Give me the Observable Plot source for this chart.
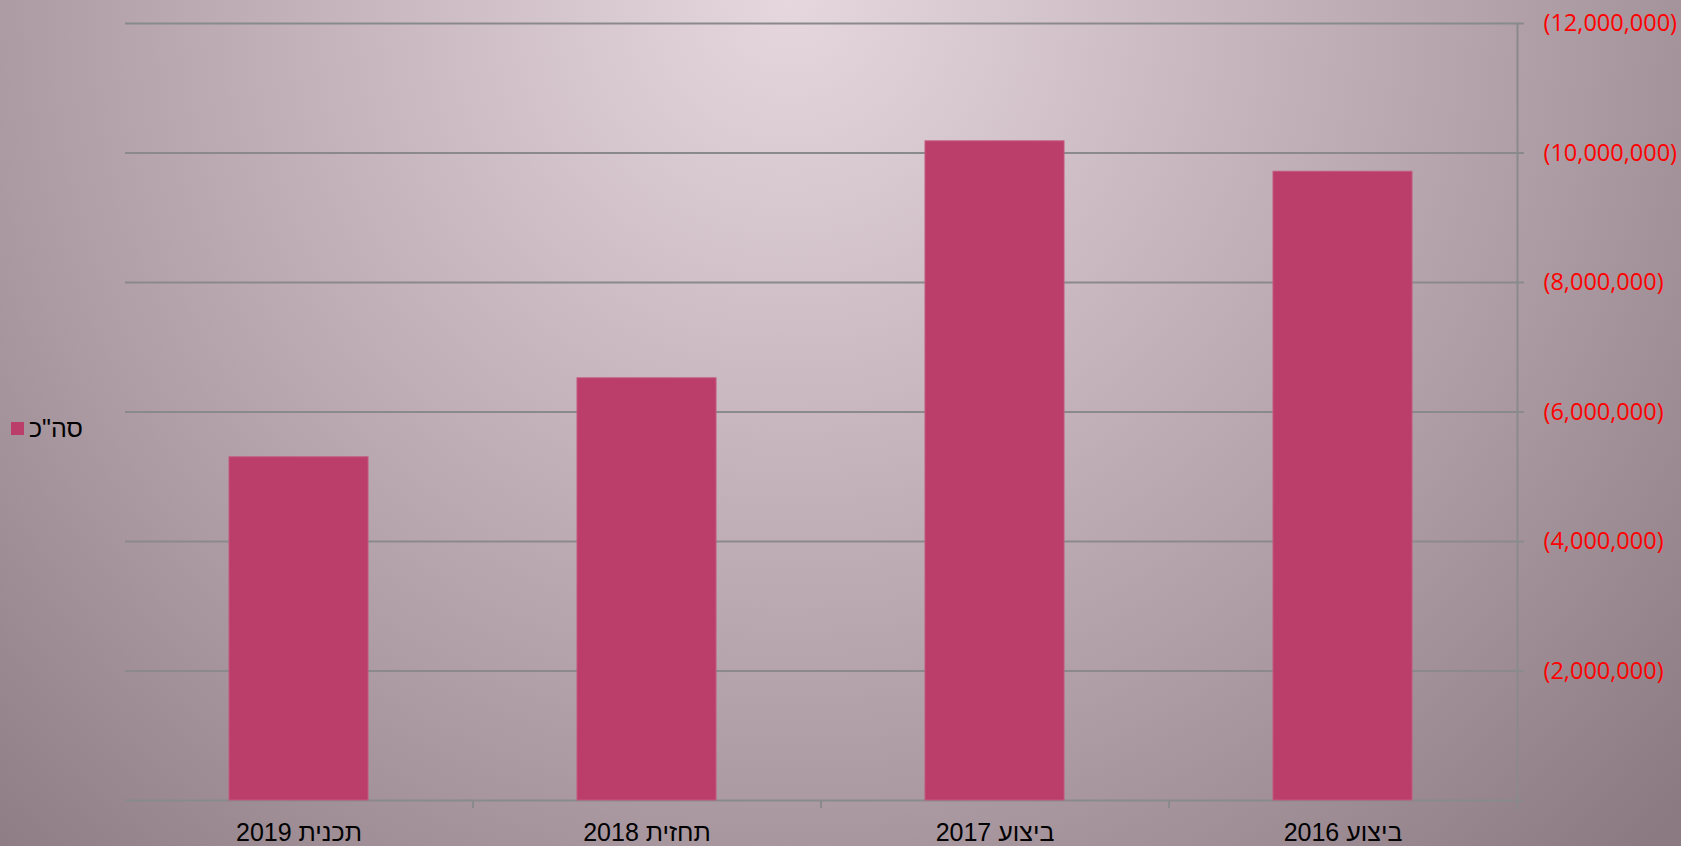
<!DOCTYPE html>
<html>
<head>
<meta charset="utf-8">
<script src="https://cdn.jsdelivr.net/npm/d3@7"></script>
<script src="https://cdn.jsdelivr.net/npm/@observablehq/plot@0.6"></script>
<style>
  html, body { margin: 0; padding: 0; }
  #wrap {
    position: relative; width: 1681px; height: 846px; overflow: hidden;
    background: radial-gradient(circle 1200px at 790px 0px, #e6d7df 0%, #c8b7be 35%, #ad9ca4 65%, #8b7a82 100%);
  }
  #chart { position: absolute; left: 0; top: 0; }
  #legend {
    position: absolute; left: 11px; top: 414px; display: flex; align-items: center;
    font-family: "Liberation Sans", Arial, sans-serif; font-size: 25px; color: #000;
  }
  #legend .sw { width: 13px; height: 13px; background: #bb3d6a; margin-right: 5px; }
</style>
</head>
<body>
<div id="wrap">
  <div id="chart"></div>
  <div id="legend"><span class="sw"></span><span>סה"כ</span></div>
</div>
<script>
const categories = ["תכנית 2019", "תחזית 2018", "ביצוע 2017", "ביצוע 2016"];
const values = [5300000, 6520000, 10180000, 9710000];
const yTicks = [0, 2000000, 4000000, 6000000, 8000000, 10000000, 12000000];
const seriesName = 'סה"כ';

const data = categories.map((c, i) => ({category: c, value: values[i]}));

const W = 1681, H = 846;
const mL = 125, mR = 164, mT = 23, mB = 46;
const step = (W - mL - mR) / categories.length;
const fmt = d3.format(",");

const chart = Plot.plot({
  width: W,
  height: H,
  marginLeft: mL,
  marginRight: mR,
  marginTop: mT,
  marginBottom: mB,
  style: {background: "transparent", overflow: "visible"},
  x: {domain: categories, paddingInner: 0.6, paddingOuter: 0.3, label: null},
  y: {domain: [0, 12000000], label: null},
  marks: [
    Plot.gridY(yTicks, {stroke: "#8a8a8a", strokeOpacity: 1, strokeWidth: 2, insetRight: -7}),
    Plot.frame({anchor: "right", stroke: "#8a8a8a", strokeWidth: 2, insetBottom: -8}),
    Plot.ruleX(categories.slice(1), {x: d => d, dx: -step / 2, y1: 0, y2: 0, insetBottom: -8, stroke: "#8a8a8a", strokeWidth: 2}),
    Plot.barY(data, {x: "category", y: "value", fill: "#bb3d6a", stroke: "#c4587f", strokeWidth: 1}),
    Plot.axisY(yTicks, {
      anchor: "right", tickSize: 0, tickPadding: 26,
      tickFormat: d => d === 0 ? "" : "(" + fmt(d) + ")",
      fill: "#ff0000", fontSize: 23.5, fontFamily: "Open Sans", label: null
    }),
    Plot.axisX({
      anchor: "bottom", tickSize: 0, tickPadding: 23,
      fill: "#000", fontSize: 25, fontFamily: "Liberation Sans", label: null
    })
  ]
});
document.getElementById("chart").appendChild(chart);
</script>
</body>
</html>
